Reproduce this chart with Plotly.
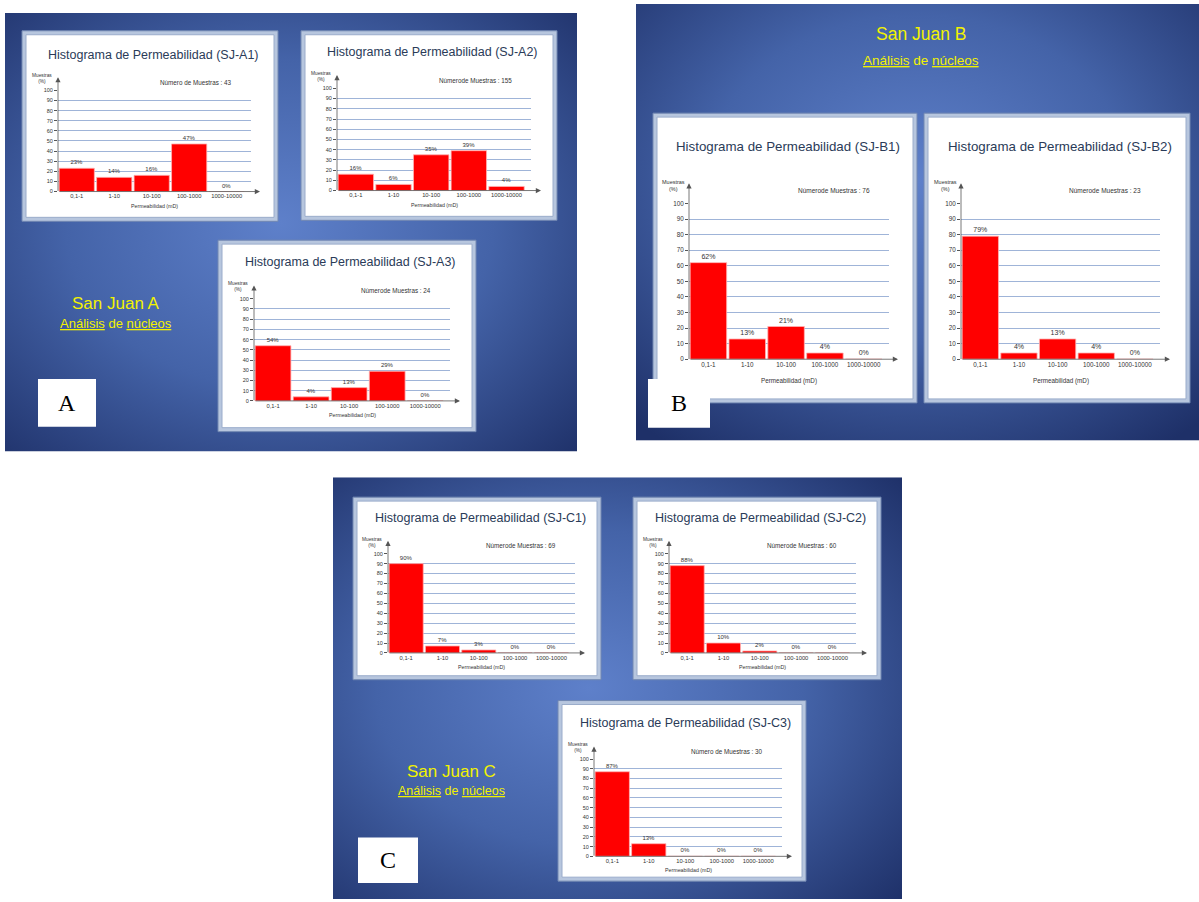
import base64
import plotly.graph_objects as go

W, H = 1199, 902

# ---- data -------------------------------------------------------------
categorias = ["0,1-1", "1-10", "10-100", "100-1000", "1000-10000"]

sj_a1 = [23, 14, 16, 47, 0]
sj_a2 = [16, 6, 35, 39, 4]
sj_a3 = [54, 4, 13, 29, 0]
sj_b1 = [62, 13, 21, 4, 0]
sj_b2 = [79, 4, 13, 4, 0]
sj_c1 = [90, 7, 3, 0, 0]
sj_c2 = [88, 10, 2, 0, 0]
sj_c3 = [87, 13, 0, 0, 0]

pozos = ["SJ-A1", "SJ-A2", "SJ-A3", "SJ-B1", "SJ-B2", "SJ-C1", "SJ-C2", "SJ-C3"]
series = [sj_a1, sj_a2, sj_a3, sj_b1, sj_b2, sj_c1, sj_c2, sj_c3]
n_muestras = [43, 155, 24, 76, 23, 69, 60, 30]
rotulo_muestras = ["Número de Muestras", "Númerode Muestras", "Númerode Muestras",
                   "Númerode Muestras", "Númerode Muestras", "Númerode Muestras",
                   "Númerode Muestras", "Número de Muestras"]
y_ticks = list(range(0, 101, 10))

# ---- layout of each chart card (pixels) -------------------------------
# frame box, y-axis x, grid right, arrow right, y of value 0, y of value 100, title y, size group
tarjetas = [
    dict(frame=(22, 27, 278, 219), ax=58, gr=251, ar=260, y0=189, y100=87, ty=51, big=False),
    dict(frame=(301, 27, 557, 218), ax=337, gr=531, ar=541, y0=188, y100=85, ty=48, big=False),
    dict(frame=(218, 238, 476, 431), ax=254, gr=450, ar=460, y0=400, y100=297, ty=260, big=False),
    dict(frame=(653, 110, 917, 402), ax=689, gr=889, ar=898, y0=358, y100=201, ty=144, big=True),
    dict(frame=(924, 110, 1190, 402), ax=961, gr=1160, ar=1170, y0=358, y100=201, ty=144, big=True),
    dict(frame=(353, 497, 601, 681), ax=388, gr=575, ar=585, y0=654, y100=554, ty=518, big=False),
    dict(frame=(633, 497, 881, 681), ax=669, gr=856, ar=867, y0=654, y100=554, ty=518, big=False),
    dict(frame=(558, 702, 806, 884), ax=594, gr=782, ar=792, y0=859, y100=761, ty=725, big=False),
]

ARIAL = "Liberation Sans, Arial, sans-serif"
TXT = "#333333"
TITLE = "#2a3b58"
GRID = "#9fb4d8"
AXIS = "#555555"
YELLOW = "#f2f200"


def px(x):
    return x / W


def py(y):
    return 1 - y / H


def gradiente(cx, cy, r):
    svg = (
        '<svg xmlns="http://www.w3.org/2000/svg" width="200" height="200" '
        'viewBox="0 0 200 200" preserveAspectRatio="none">'
        f'<defs><radialGradient id="g" cx="{cx}" cy="{cy}" r="{r}">'
        '<stop offset="0" stop-color="#5e80ca"/>'
        '<stop offset="0.5" stop-color="#4463a8"/>'
        '<stop offset="1" stop-color="#1e3068"/>'
        '</radialGradient></defs>'
        '<rect width="200" height="200" fill="url(#g)"/></svg>'
    )
    return "data:image/svg+xml;base64," + base64.b64encode(svg.encode()).decode()


fig = go.Figure()
shapes, annotations, images = [], [], []

# slide backgrounds
diapositivas = [
    ((5, 9, 577, 451), (0.48, 0.48, 0.75)),
    ((636, 0, 1199, 440), (0.5, 0.4, 0.75)),
    ((333, 477, 902, 902), (0.45, 0.5, 0.75)),
]
for (x0, y0, x1, y1), (cx, cy, r) in diapositivas:
    images.append(dict(source=gradiente(cx, cy, r), xref="paper", yref="paper",
                       x=px(x0), y=py(y0), sizex=(x1 - x0) / W, sizey=(y1 - y0) / H,
                       xanchor="left", yanchor="top", sizing="stretch", layer="below"))

# slide captions
leyendas = [
    (116, 302, 17, 322, 13),
    (921, 30, 17.5, 57, 13.5),
    (451, 773, 17, 793, 12.5),
]
nombres = ["San Juan A", "San Juan B", "San Juan C"]
for nombre, (cx, y1, s1, y2, s2) in zip(nombres, leyendas):
    annotations.append(dict(text=nombre, x=px(cx), y=py(y1), xref="paper", yref="paper",
                            showarrow=False, xanchor="center", yanchor="middle",
                            font=dict(family=ARIAL, size=s1, color=YELLOW)))
    annotations.append(dict(text="<u>Análisis</u> de <u>núcleos</u>", x=px(cx), y=py(y2),
                            xref="paper", yref="paper", showarrow=False,
                            xanchor="center", yanchor="middle",
                            font=dict(family=ARIAL, size=s2, color=YELLOW)))

layout_axes = {}
for i, (pozo, vals, n, rot, t) in enumerate(zip(pozos, series, n_muestras,
                                                 rotulo_muestras, tarjetas)):
    k = "" if i == 0 else str(i + 1)
    big = t["big"]
    fam = ARIAL
    f_tick = 6.3 if big else 5.5
    f_cat = 6.3 if big else 5.8
    f_val = 7 if big else 6
    f_title = 13.3 if big else 12.5
    f_n = 6.5 if big else 6.3
    f_small = 5.5 if big else 4.8
    f_xl = 6.3 if big else 5.3

    fx0, fy0, fx1, fy1 = t["frame"]
    # card frame: steel-blue border around a white face
    shapes.append(dict(type="rect", xref="paper", yref="paper", x0=px(fx0), x1=px(fx1),
                       y0=py(fy1), y1=py(fy0), fillcolor="#b7c6de",
                       line=dict(color="#7288b2", width=1), layer="below"))
    shapes.append(dict(type="rect", xref="paper", yref="paper", x0=px(fx0 + 4),
                       x1=px(fx1 - 4), y0=py(fy1 - 4), y1=py(fy0 + 4), fillcolor="white",
                       line=dict(color="#9aaccb", width=1), layer="below"))

    h = t["y0"] - t["y100"]
    layout_axes["xaxis" + k] = dict(
        domain=[px(t["ax"]), px(t["gr"])], anchor="y" + k, type="category",
        range=[-0.5, 4.65], showgrid=False, zeroline=False, showline=False,
        ticks="", tickfont=dict(family=fam, size=f_cat, color=TXT), fixedrange=True)
    layout_axes["yaxis" + k] = dict(
        domain=[py(t["y0"]), py(t["y100"])], anchor="x" + k, range=[0, 100],
        tickvals=y_ticks, showgrid=True, gridcolor=GRID, gridwidth=1.3,
        zeroline=False, showline=False, ticks="outside", ticklen=3, tickcolor=AXIS,
        tickwidth=0.8, tickfont=dict(family=fam, size=f_tick, color=TXT), fixedrange=True)

    fig.add_trace(go.Bar(
        x=categorias, y=vals, xaxis="x" + k, yaxis="y" + k,
        marker=dict(color="#ff0000", line=dict(color="#ffb3b3", width=0.8)),
        text=[f"{v}%" for v in vals], textposition="outside", cliponaxis=False,
        textfont=dict(family=fam, size=f_val, color=TXT), showlegend=False,
        hoverinfo="skip"))

    # axis arrows (tail offsets in pixels from the head)
    top = t["y100"] - 0.13 * h
    annotations.append(dict(x=px(t["ar"]), y=py(t["y0"]), ax=-(t["ar"] - t["ax"]), ay=0,
                            xref="paper", yref="paper", axref="pixel", ayref="pixel",
                            text="", showarrow=True, arrowhead=2, arrowsize=1.3,
                            arrowwidth=0.8, arrowcolor=AXIS, standoff=0, startstandoff=0))
    annotations.append(dict(x=px(t["ax"]), y=py(top), ax=0, ay=t["y0"] - top,
                            xref="paper", yref="paper", axref="pixel", ayref="pixel",
                            text="", showarrow=True, arrowhead=2, arrowsize=1.3,
                            arrowwidth=0.8, arrowcolor=AXIS, standoff=0, startstandoff=0))

    # title
    annotations.append(dict(text=f"Histograma de Permeabilidad ({pozo})",
                            x=px((fx0 + fx1) / 2 + 3), y=py(t["ty"]), xref="paper",
                            yref="paper", showarrow=False, xanchor="center",
                            yanchor="middle", font=dict(family=fam, size=f_title, color=TITLE)))
    # sample count
    annotations.append(dict(text=f"{rot} : {n}", x=px(t["gr"] - 17),
                            y=py(t["y100"] - 0.08 * h), xref="paper", yref="paper",
                            showarrow=False, xanchor="right", yanchor="middle",
                            font=dict(family=fam, size=f_n, color=TXT)))
    # y-axis caption
    annotations.append(dict(text="Muestras<br>(%)", x=px(t["ax"] - 16),
                            y=py(t["y100"] - 0.115 * h), xref="paper", yref="paper",
                            showarrow=False, xanchor="center", yanchor="middle",
                            font=dict(family=fam, size=f_small, color=TXT)))
    # x-axis caption
    annotations.append(dict(text="Permeabilidad (mD)", x=px((t["ax"] + t["gr"]) / 2),
                            y=py(t["y0"] + 0.14 * h), xref="paper", yref="paper",
                            showarrow=False, xanchor="center", yanchor="middle",
                            font=dict(family=fam, size=f_xl, color=TXT)))

# panel letters, drawn over the cards
letras = [("A", (38, 378, 96, 426)), ("B", (648, 378, 710, 427)), ("C", (358, 840, 418, 886))]
for letra, (x0, y0, x1, y1) in letras:
    shapes.append(dict(type="rect", xref="paper", yref="paper", x0=px(x0), x1=px(x1),
                       y0=py(y1), y1=py(y0), fillcolor="white", line=dict(width=0),
                       layer="below"))
    annotations.append(dict(text=letra, x=px((x0 + x1) / 2), y=py((y0 + y1) / 2),
                            xref="paper", yref="paper", showarrow=False,
                            xanchor="center", yanchor="middle",
                            font=dict(family="Liberation Serif, Times New Roman, serif",
                                      size=24, color="black")))

fig.update_layout(
    width=W, height=H, margin=dict(l=0, r=0, t=0, b=0, pad=0),
    paper_bgcolor="white", plot_bgcolor="rgba(0,0,0,0)",
    bargap=0.06, showlegend=False,
    shapes=shapes, annotations=annotations, images=images,
    **layout_axes,
)

fig.write_html("out.html", config={"displayModeBar": False})
